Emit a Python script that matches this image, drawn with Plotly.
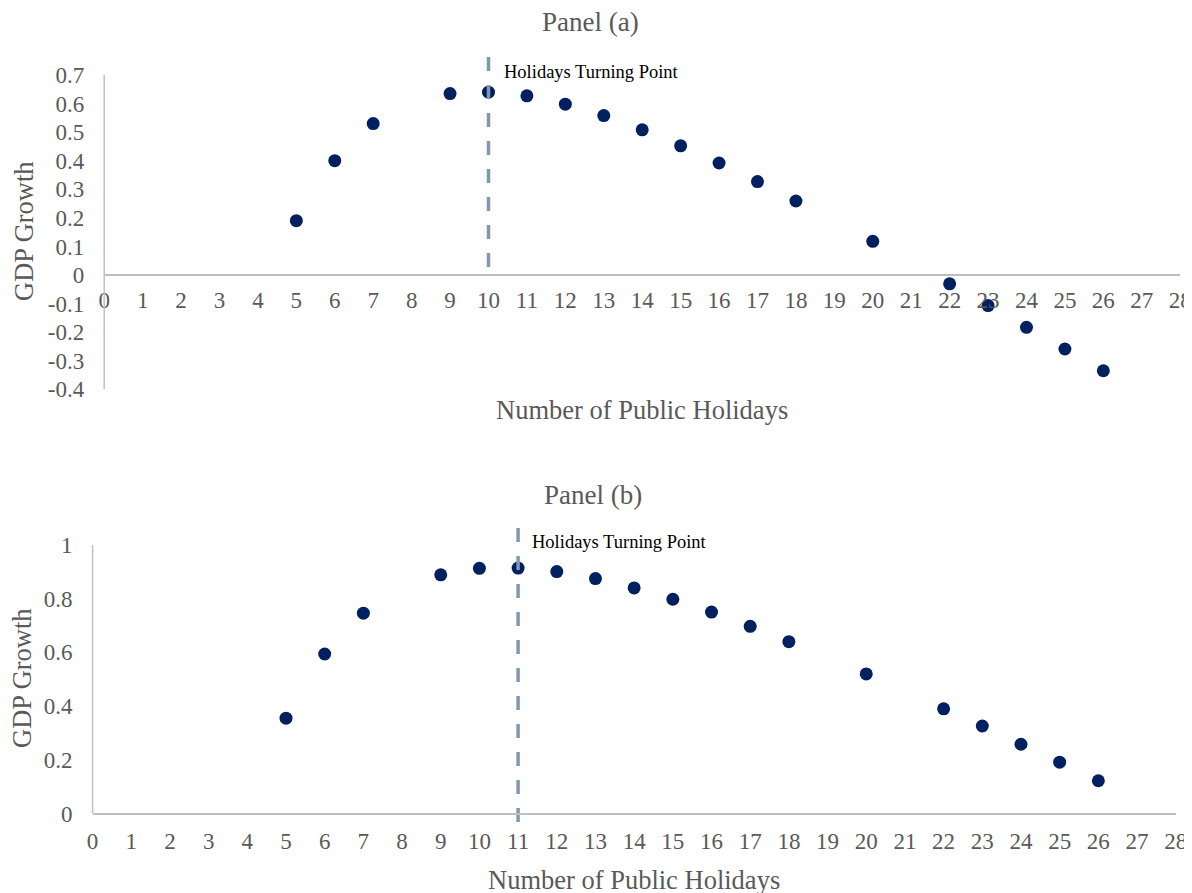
import plotly.graph_objects as go

# ---------------- data ----------------
holidays = [5, 6, 7, 9, 10, 11, 12, 13, 14, 15, 16, 17, 18, 20, 22, 23, 24, 25, 26]
growth_a = [0.19, 0.40, 0.53, 0.635, 0.64, 0.627, 0.598, 0.558, 0.508, 0.452,
            0.392, 0.327, 0.259, 0.118, -0.031, -0.107, -0.183, -0.259, -0.335]
growth_b = [0.355, 0.594, 0.746, 0.889, 0.913, 0.914, 0.901, 0.875, 0.840, 0.798,
            0.750, 0.697, 0.640, 0.520, 0.390, 0.326, 0.258, 0.191, 0.122]

turn_a_x = [10, 10]
turn_a_y = [0.763, 0.025]
turn_b_x = [11, 11]
turn_b_y = [1.063, -0.043]

x_ticks = list(range(0, 29))
y_ticks_a = [-0.4, -0.3, -0.2, -0.1, 0, 0.1, 0.2, 0.3, 0.4, 0.5, 0.6, 0.7]
y_text_a = ["-0.4", "-0.3", "-0.2", "-0.1", "0", "0.1", "0.2", "0.3", "0.4", "0.5", "0.6", "0.7"]
y_ticks_b = [0, 0.2, 0.4, 0.6, 0.8, 1]
y_text_b = ["0", "0.2", "0.4", "0.6", "0.8", "1"]

# ---------------- geometry ----------------
W, H = 1192, 893
OFF = 8  # page body margin
FONT = "Liberation Serif, Times New Roman, serif"
GREY = "#595959"
AXIS = "#BFBFBF"
NAVY = "#002060"
DASH = "#8497B0"


def px_x(p):
    return (p - OFF) / W


def px_y(p):
    return 1 - (p - OFF) / H


def ydomain(top_val, top_px, bot_val, bot_px, lo, hi):
    scale = (bot_px - top_px) / (top_val - bot_val)
    zero_px = top_px + top_val * scale
    top = zero_px - hi * scale
    bot = zero_px - lo * scale
    return [px_y(bot), px_y(top)], px_y(zero_px)


ya_range = [-0.4, 0.775]
yb_range = [-0.05, 1.075]
ya_dom, ya_zero = ydomain(0.7, 75, -0.4, 389.3, *ya_range)
yb_dom, yb_zero = ydomain(1.0, 545, 0.0, 813.5, *yb_range)
xa_dom = [px_x(104.2), px_x(1180.2)]
xb_dom = [px_x(92.6), px_x(1175.7)]

fig = go.Figure()

fig.add_trace(go.Scatter(x=holidays, y=growth_a, mode="markers", xaxis="x", yaxis="y",
                         marker=dict(color=NAVY, size=13), cliponaxis=False))
fig.add_trace(go.Scatter(x=turn_a_x, y=turn_a_y, mode="lines", xaxis="x", yaxis="y",
                         line=dict(color=DASH, width=3.5, dash="14px,14px")))
fig.add_trace(go.Scatter(x=holidays, y=growth_b, mode="markers", xaxis="x2", yaxis="y2",
                         marker=dict(color=NAVY, size=13), cliponaxis=False))
fig.add_trace(go.Scatter(x=turn_b_x, y=turn_b_y, mode="lines", xaxis="x2", yaxis="y2",
                         line=dict(color=DASH, width=3.5, dash="14px,14px")))

tickfont = dict(family=FONT, size=23, color=GREY)
xcommon = dict(range=[0, 28], tickvals=x_ticks, ticks="", showgrid=False, zeroline=False,
               showline=True, linecolor=AXIS, linewidth=1.5, tickfont=tickfont,
               anchor="free", automargin=False)
ycommon = dict(ticks="", showgrid=False, zeroline=False, showline=False,
               tickfont=tickfont, ticklabelstandoff=20, anchor="free", automargin=False)

fig.update_layout(
    width=W, height=H, margin=dict(l=0, r=0, t=0, b=0, pad=0, autoexpand=False),
    paper_bgcolor="white", plot_bgcolor="white", showlegend=False,
    xaxis=dict(domain=xa_dom, position=ya_zero, ticklabelstandoff=5, **xcommon),
    yaxis=dict(domain=ya_dom, range=ya_range, tickvals=y_ticks_a, ticktext=y_text_a,
               position=xa_dom[0], **ycommon),
    xaxis2=dict(domain=xb_dom, position=yb_zero, ticklabelstandoff=7, **xcommon),
    yaxis2=dict(domain=yb_dom, range=yb_range, tickvals=y_ticks_b, ticktext=y_text_b,
                position=xb_dom[0], **ycommon),
    shapes=[
        dict(type="line", xref="x domain", yref="y", x0=0, x1=0, y0=y_ticks_a[0], y1=y_ticks_a[-1],
             line=dict(color=AXIS, width=1.5)),
        dict(type="line", xref="x2 domain", yref="y2", x0=0, x1=0, y0=y_ticks_b[0], y1=y_ticks_b[-1],
             line=dict(color=AXIS, width=1.5)),
    ],
)


def paper_text(text, x, y, size, angle=0):
    return dict(text=text, x=px_x(x), y=px_y(y), xref="paper", yref="paper",
                xanchor="center", yanchor="middle", textangle=angle, showarrow=False,
                font=dict(family=FONT, size=size, color=GREY))


ann = [
    paper_text("Panel (a)", 590, 22, 27),
    paper_text("Panel (b)", 593, 495, 27),
    paper_text("Number of Public Holidays", 642, 410, 26.5),
    paper_text("Number of Public Holidays", 634, 880, 26.5),
    paper_text("GDP Growth", 24, 231, 26.5, -90),
    paper_text("GDP Growth", 22, 678, 26.5, -90),
    dict(text="Holidays Turning Point", x=10.34, y=0.712, xref="x", yref="y",
         xanchor="left", yanchor="middle", showarrow=False,
         font=dict(family=FONT, size=18.5, color="black")),
    dict(text="Holidays Turning Point", x=11.3, y=1.011, xref="x2", yref="y2",
         xanchor="left", yanchor="middle", showarrow=False,
         font=dict(family=FONT, size=18.5, color="black")),
]
fig.update_layout(annotations=ann)

fig.write_html("out.html")
